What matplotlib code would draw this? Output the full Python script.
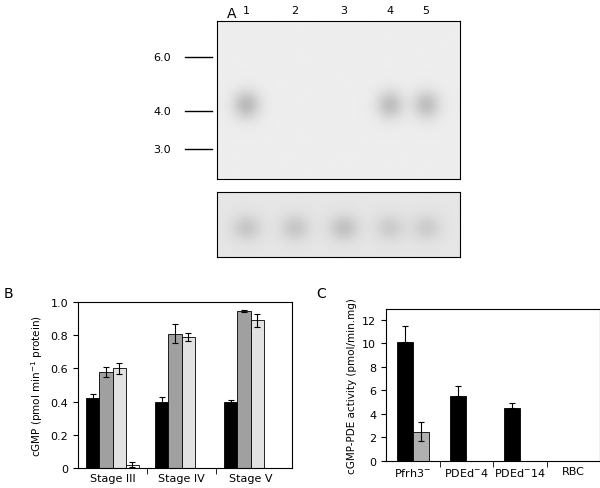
import numpy as np
import matplotlib.pyplot as plt
from matplotlib.ticker import FixedLocator, FuncFormatter

# panel A blot
lanes = ['1', '2', '3', '4', '5']
band_strength = [0.2, 0.0, 0.0, 0.18, 0.18]
load_strength = [0.12, 0.12, 0.14, 0.1, 0.1]
markers = ['6.0', '4.0', '3.0']
marker_pos = [0.77, 0.43, 0.19]

# panel B
stages = ['Stage III', 'Stage IV', 'Stage V']
b_vals = [[0.42, 0.40, 0.40], [0.58, 0.81, 0.945], [0.60, 0.79, 0.89], [0.02, 0.0, 0.0]]
b_err = [[0.025, 0.025, 0.012], [0.03, 0.055, 0.004], [0.035, 0.025, 0.04], [0.015, 0.0, 0.0]]
b_colors = ['black', '#a0a0a0', '#e2e2e2', 'white']

# panel C
strains = ['Pfrh3$^{-}$', 'PDEd$^{-}$4', 'PDEd$^{-}$14', 'RBC']
c_black = [10.1, 5.5, 4.5, 0.0]
c_black_err = [1.35, 0.85, 0.45, 0.0]
c_gray = [2.5, 0.0, 0.0, 0.0]
c_gray_err = [0.8, 0.0, 0.0, 0.0]

fig = plt.figure(figsize=(6, 4.89), dpi=100)
W, H = 600, 489
def ax_px(l, t, r, b):
    return fig.add_axes([l / W, 1 - b / H, (r - l) / W, (b - t) / H])

lane_x = np.array([0.12, 0.32, 0.52, 0.71, 0.86])
xx, yy = np.meshgrid(np.linspace(0, 1, 300), np.linspace(0, 1, 200))
img = np.zeros_like(xx)
for lx, s in zip(lane_x, band_strength):
    img += s * np.exp(-((xx - lx) / 0.055) ** 2 - ((yy - 0.47) / 0.09) ** 2)
axA = ax_px(217, 22, 460, 180)
axA.imshow(0.93 - img, cmap='gray', vmin=0, vmax=1, extent=[0, 1, 0, 1], aspect='auto', origin='lower')
axA.set_xticks([]); axA.set_yticks([])
img2 = np.zeros_like(xx)
for lx, s in zip(lane_x, load_strength):
    img2 += s * np.exp(-((xx - lx) / 0.06) ** 2 - ((yy - 0.45) / 0.2) ** 2)
axA2 = ax_px(217, 193, 460, 258)
axA2.imshow(0.9 - img2, cmap='gray', vmin=0, vmax=1, extent=[0, 1, 0, 1], aspect='auto', origin='lower')
axA2.set_xticks([]); axA2.set_yticks([])
for lx, lab in zip(lane_x, lanes):
    axA.text(lx, 1.04, lab, transform=axA.transAxes, ha='center', va='bottom', fontsize=8)
for p, lab in zip(marker_pos, markers):
    axA.plot([-0.13, -0.02], [p, p], color='black', lw=1, transform=axA.transAxes, clip_on=False)
    axA.text(-0.19, p, lab, transform=axA.transAxes, ha='right', va='center', fontsize=8)
fig.text(232 / W, 1 - 14 / H, 'A', fontsize=10, ha='center', va='center')

ekw = {'elinewidth': 0.8, 'capthick': 0.8}

# panel B
axB = ax_px(78, 303, 292, 469)
x = np.arange(len(stages))
w = 0.19
for i in range(4):
    pos = x - 1.5 * w + i * w
    vals = b_vals[i]
    errs = b_err[i]
    keep = [j for j in range(3) if vals[j] > 0]
    axB.bar(pos[keep], [vals[j] for j in keep], w, color=b_colors[i], edgecolor='black', linewidth=0.6,
            yerr=[errs[j] for j in keep], capsize=2.5, error_kw=ekw)
axB.set_xlim(-0.5, 2.6)
axB.set_ylim(0, 1.0)
axB.set_yticks(np.arange(0, 1.01, 0.2))
axB.yaxis.set_major_formatter(FuncFormatter(lambda v, p: '0' if v == 0 else f'{v:.1f}'))
axB.set_xticks(x)
axB.set_xticklabels(stages)
axB.xaxis.set_minor_locator(FixedLocator([0.5, 1.5]))
axB.tick_params(axis='x', which='major', length=0)
axB.tick_params(axis='x', which='minor', length=4)
axB.tick_params(labelsize=8, width=0.8)
axB.set_ylabel('cGMP (pmol min$^{-1}$ protein)', fontsize=7.5)
fig.text(8 / W, 1 - 294 / H, 'B', fontsize=10, ha='center', va='center')

# panel C
axC = ax_px(386, 310, 600, 462)
xc = np.arange(len(strains))
wc = 0.3
keep = [j for j in range(4) if c_black[j] > 0]
axC.bar(xc[keep] - wc / 2, [c_black[j] for j in keep], wc, color='black', edgecolor='black', linewidth=0.6,
        yerr=[[0] * len(keep), [c_black_err[j] for j in keep]], capsize=2.5, error_kw=ekw)
keep = [j for j in range(4) if c_gray[j] > 0]
axC.bar(xc[keep] + wc / 2, [c_gray[j] for j in keep], wc, color='#b0b0b0', edgecolor='black', linewidth=0.6,
        yerr=[c_gray_err[j] for j in keep], capsize=2.5, error_kw=ekw)
axC.set_xlim(-0.5, 3.5)
axC.set_ylim(0, 12.9)
axC.set_yticks(range(0, 13, 2))
axC.set_xticks(xc)
axC.set_xticklabels(strains)
axC.xaxis.set_minor_locator(FixedLocator([0.5, 1.5, 2.5]))
axC.tick_params(axis='x', which='major', length=0)
axC.tick_params(axis='x', which='minor', length=4)
axC.tick_params(labelsize=8, width=0.8)
axC.set_ylabel('cGMP-PDE activity (pmol/min.mg)', fontsize=7.5)
fig.text(321 / W, 1 - 294 / H, 'C', fontsize=10, ha='center', va='center')

fig.savefig('out.png', dpi=100)
